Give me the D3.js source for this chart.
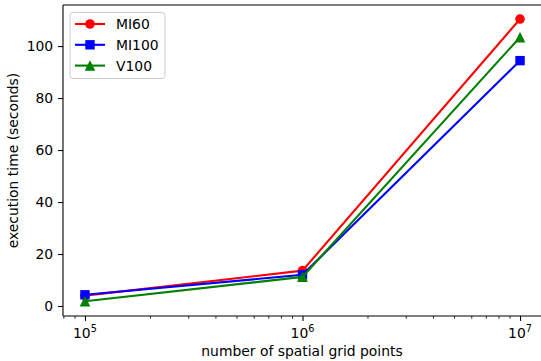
<!DOCTYPE html>
<html>
<head>
  <meta charset="utf-8">
  <title>execution time vs grid points</title>
  <script src="https://d3js.org/d3.v7.min.js"></script>
  <style>
    body { margin: 0; background: #fff; }
    text { font-family: "DejaVu Sans", sans-serif; fill: #000; }
  </style>
</head>
<body>
  <script>
  // data
  var gridPoints = [1e5, 1e6, 1e7];
  var seriesNames = ["MI60", "MI100", "V100"];
  var seriesColors = ["#ff0000", "#0000ff", "#008000"];
  var seriesMarkers = ["circle", "square", "triangle"];
  var mi60 = [4.0, 13.6, 110.4];
  var mi100 = [4.3, 12.0, 94.4];
  var v100 = [1.8, 11.2, 103.4];
  var yTicks = [0, 20, 40, 60, 80, 100];
  var xTicks = [1e5, 1e6, 1e7];

  var width = 541, height = 361;
  var pLeft = 63, pTop = 5, pBottom = 316, pRight = 542;

  var svg = d3.select("body").append("svg").attr("width", width).attr("height", height);

  var x = d3.scaleLog().domain([Math.pow(10, 4.899), Math.pow(10, 7.101)]).range([pLeft, pRight]);
  var y = d3.scaleLinear().domain([-3.85, 115.8]).range([pBottom, pTop]);

  var series = [mi60, mi100, v100].map(function(vals, i) {
    return { name: seriesNames[i], color: seriesColors[i], marker: seriesMarkers[i],
      points: vals.map(function(v, j) { return [gridPoints[j], v]; }) };
  });

  // axes
  var xAxis = d3.axisBottom(x).tickValues(xTicks).tickSize(4.9).tickFormat("");
  var gx = svg.append("g").attr("transform", "translate(0," + pBottom + ")").call(xAxis);
  gx.select(".domain").remove();
  gx.selectAll(".tick line").attr("stroke", "#000").attr("stroke-width", 1.1);

  // minor ticks
  var minor = [];
  [1e4, 1e5, 1e6, 1e7].forEach(function(d) {
    for (var k = 2; k < 10; k++) {
      var v = d * k;
      if (v > x.domain()[0] && v < x.domain()[1]) minor.push(v);
    }
  });
  svg.append("g").selectAll("line").data(minor).enter().append("line")
    .attr("x1", function(d) { return x(d); }).attr("x2", function(d) { return x(d); })
    .attr("y1", pBottom).attr("y2", pBottom + 2.8)
    .attr("stroke", "#000").attr("stroke-width", 0.8);

  var xl = svg.append("g").selectAll("text").data(xTicks).enter().append("text")
    .attr("x", function(d) { return x(d); }).attr("y", 338)
    .attr("text-anchor", "middle").style("font-size", "13.9px");
  xl.append("tspan").text("10");
  xl.append("tspan").attr("dy", "-6").style("font-size", "9.7px")
    .text(function(d) { return Math.round(Math.log10(d)); });

  var yAxis = d3.axisLeft(y).tickValues(yTicks).tickSize(4.9).tickPadding(4.9);
  var gy = svg.append("g").attr("transform", "translate(" + pLeft + ",0)").call(yAxis);
  gy.select(".domain").remove();
  gy.selectAll(".tick line").attr("stroke", "#000").attr("stroke-width", 1.1);
  gy.selectAll(".tick text").style("font-size", "13.9px").attr("font-family", "DejaVu Sans");

  // spines
  svg.append("line").attr("x1", pLeft).attr("x2", pRight).attr("y1", pBottom).attr("y2", pBottom)
    .attr("stroke", "#000").attr("stroke-width", 1.1);
  svg.append("line").attr("x1", pLeft).attr("x2", pRight).attr("y1", pTop).attr("y2", pTop)
    .attr("stroke", "#000").attr("stroke-width", 1.1);
  svg.append("line").attr("x1", pLeft).attr("x2", pLeft).attr("y1", pTop).attr("y2", pBottom)
    .attr("stroke", "#000").attr("stroke-width", 1.1);

  // lines and markers
  var line = d3.line().x(function(d) { return x(d[0]); }).y(function(d) { return y(d[1]); });

  function marker(sel, type, color) {
    if (type == "circle") {
      sel.append("circle").attr("r", 4.8).attr("fill", color);
    } else if (type == "square") {
      sel.append("rect").attr("x", -4.7).attr("y", -4.7).attr("width", 9.4).attr("height", 9.4).attr("fill", color);
    } else {
      sel.append("path").attr("d", "M0,-5.4L5.3,5.2L-5.3,5.2Z").attr("fill", color);
    }
  }

  series.forEach(function(s) {
    svg.append("path").datum(s.points).attr("d", line)
      .attr("fill", "none").attr("stroke", s.color).attr("stroke-width", 2.1);
    s.points.forEach(function(p) {
      var g = svg.append("g").attr("transform", "translate(" + x(p[0]) + "," + y(p[1]) + ")");
      marker(g, s.marker, s.color);
    });
  });

  // axis labels
  svg.append("text").attr("x", 302).attr("y", 356)
    .attr("text-anchor", "middle").style("font-size", "13.9px")
    .text("number of spatial grid points");
  svg.append("text").attr("transform", "translate(18," + ((pTop + pBottom) / 2) + ") rotate(-90)")
    .attr("text-anchor", "middle").style("font-size", "13.9px")
    .text("execution time (seconds)");

  // legend
  var lg = svg.append("g");
  lg.append("rect").attr("x", 70).attr("y", 12.5).attr("width", 95).attr("height", 66).attr("rx", 3)
    .attr("fill", "#fff").attr("fill-opacity", 0.8).attr("stroke", "#ccc").attr("stroke-width", 1);
  series.forEach(function(s, i) {
    var yy = 24 + i * 20.8;
    lg.append("line").attr("x1", 75).attr("x2", 105).attr("y1", yy).attr("y2", yy)
      .attr("stroke", s.color).attr("stroke-width", 2.1);
    marker(lg.append("g").attr("transform", "translate(90," + yy + ")"), s.marker, s.color);
    lg.append("text").attr("x", 116).attr("y", yy + 5).style("font-size", "13.9px").text(s.name);
  });
  </script>
</body>
</html>
